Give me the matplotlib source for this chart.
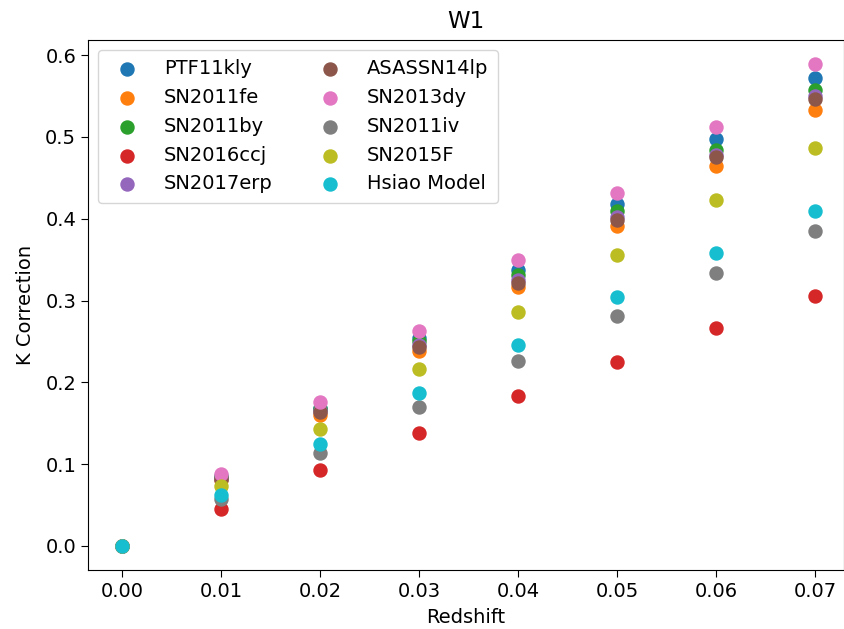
import matplotlib
matplotlib.use("Agg")
import matplotlib.pyplot as plt

# K corrections in the W1 band versus redshift
redshift = [0.00, 0.01, 0.02, 0.03, 0.04, 0.05, 0.06, 0.07]

ptf11kly = [0.0, 0.085, 0.169, 0.254, 0.337, 0.418, 0.497, 0.572]
sn2011fe = [0.0, 0.080, 0.160, 0.238, 0.316, 0.391, 0.465, 0.533]
sn2011by = [0.0, 0.084, 0.167, 0.250, 0.331, 0.409, 0.484, 0.557]
sn2016ccj = [0.0, 0.045, 0.093, 0.138, 0.183, 0.225, 0.266, 0.305]
sn2017erp = [0.0, 0.082, 0.165, 0.246, 0.325, 0.402, 0.478, 0.550]
asassn14lp = [0.0, 0.082, 0.164, 0.243, 0.322, 0.399, 0.475, 0.546]
sn2013dy = [0.0, 0.088, 0.176, 0.263, 0.349, 0.432, 0.512, 0.589]
sn2011iv = [0.0, 0.057, 0.114, 0.170, 0.226, 0.281, 0.334, 0.385]
sn2015f = [0.0, 0.073, 0.143, 0.216, 0.286, 0.356, 0.423, 0.487]
hsiao = [0.0, 0.062, 0.125, 0.187, 0.246, 0.304, 0.358, 0.409]

series = [
    ("PTF11kly", ptf11kly),
    ("SN2011fe", sn2011fe),
    ("SN2011by", sn2011by),
    ("SN2016ccj", sn2016ccj),
    ("SN2017erp", sn2017erp),
    ("ASASSN14lp", asassn14lp),
    ("SN2013dy", sn2013dy),
    ("SN2011iv", sn2011iv),
    ("SN2015F", sn2015f),
    ("Hsiao Model", hsiao),
]

fig = plt.figure(figsize=(8.45, 6.29), dpi=100)
ax = fig.add_axes([88 / 845, 59 / 629, 756 / 845, 530 / 629])

for name, k in series:
    ax.scatter(redshift, k, s=88, label=name)

ax.set_xlim(-0.00343, 0.0729)
ax.set_title("W1", fontsize=16.5, pad=9)
ax.set_xlabel("Redshift", fontsize=14, labelpad=5)
ax.set_ylabel("K Correction", fontsize=14, labelpad=7)
ax.tick_params(labelsize=14, length=5)
ax.legend(ncol=2, fontsize=14, loc="upper left", handletextpad=0.9,
          columnspacing=1.95, labelspacing=0.5, borderpad=0.5)

fig.savefig("out.png", dpi=100)
